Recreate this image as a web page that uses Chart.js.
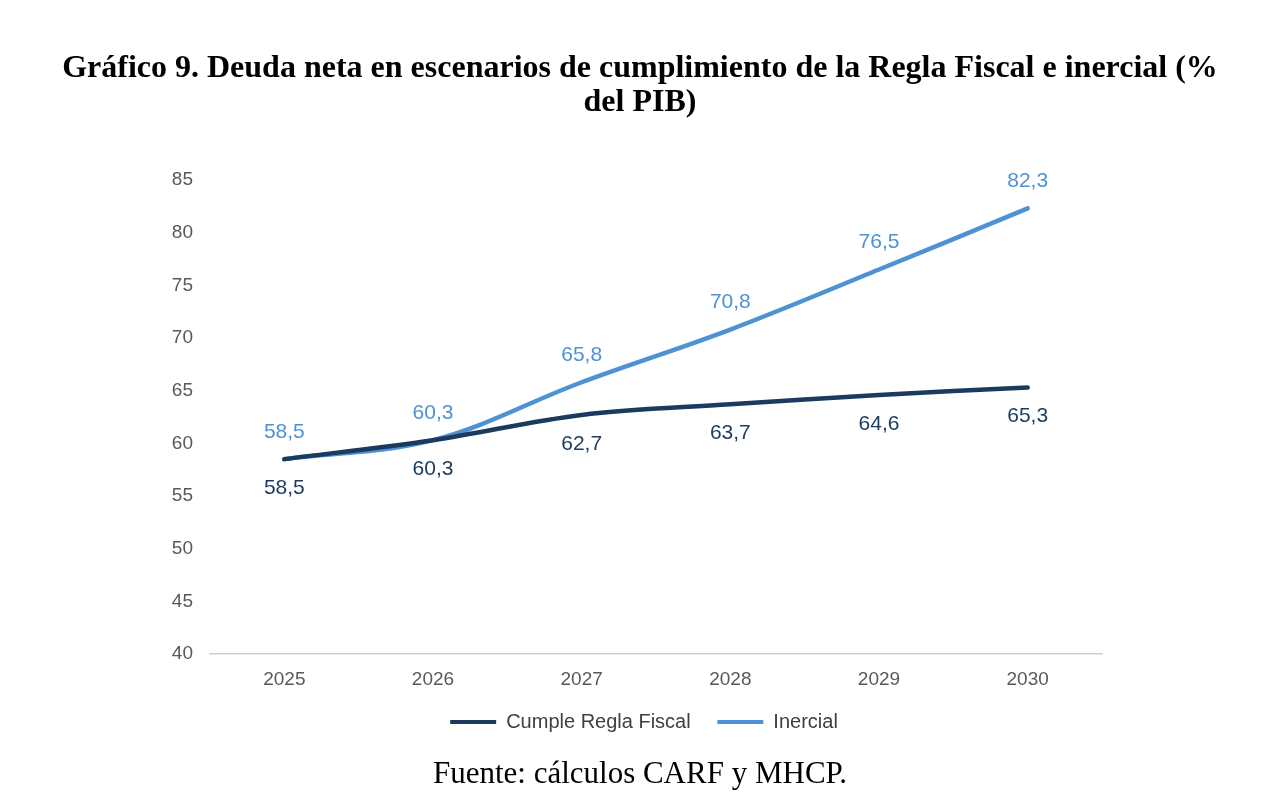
<!DOCTYPE html>
<html>
<head>
<meta charset="utf-8">
<script src="https://cdn.jsdelivr.net/npm/chart.js@4.4.1/dist/chart.umd.min.js"></script>
<style>
  html, body { margin: 0; padding: 0; background: #fff; }
  body { width: 1280px; height: 808px; position: relative; overflow: hidden; }
  #title {
    position: absolute; left: 0; top: 49px; width: 1280px; text-align: center;
    font-family: 'Liberation Serif', 'Times New Roman', serif; font-weight: bold;
    font-size: 32px; line-height: 34px; color: #000;
  }
  #source {
    position: absolute; left: 0; top: 754px; width: 1280px; text-align: center;
    font-family: 'Liberation Serif', 'Times New Roman', serif;
    font-size: 31px; line-height: 38px; color: #000;
  }
  #wrap { position: absolute; left: 0; top: 0; width: 1280px; height: 808px; }
</style>
</head>
<body>
<div id="wrap"><canvas id="chart" width="1280" height="808"></canvas></div>
<div id="title">Gráfico 9. Deuda neta en escenarios de cumplimiento de la Regla Fiscal e inercial (%<br>del PIB)</div>
<div id="source">Fuente: cálculos CARF y MHCP.</div>
<script>
const years = ['2025', '2026', '2027', '2028', '2029', '2030'];
const cumpleRegla = [58.5, 60.3, 62.7, 63.7, 64.6, 65.3];
const inercial = [58.5, 60.3, 65.8, 70.8, 76.5, 82.3];
const seriesNames = ['Cumple Regla Fiscal', 'Inercial'];
const seriesColors = ['#1a3a5e', '#4f92d4'];

// etiquetas de datos: clara arriba, oscura abajo
const dataLabels = {
    id: 'dataLabels',
    afterDatasetsDraw(chart) {
        const ctx = chart.ctx;
        ctx.save();
        ctx.font = '21px "Liberation Sans", Arial, sans-serif';
        ctx.textAlign = 'center';
        ctx.textBaseline = 'middle';
        chart.data.datasets.forEach((ds, i) => {
            const meta = chart.getDatasetMeta(i);
            const above = i === 1;
            ctx.fillStyle = ds.borderColor;
            meta.data.forEach((pt, j) => {
                const txt = ds.data[j].toFixed(1).replace('.', ',');
                ctx.fillText(txt, pt.x, pt.y + (above ? -27 : 29));
            });
        });
        ctx.restore();
    }
};

// centrar la leyenda bajo el area del grafico, no bajo todo el lienzo
const legendShift = {
    id: 'legendShift',
    afterLayout(chart) {
        const lg = chart.legend;
        const mid = (chart.chartArea.left + chart.chartArea.right) / 2;
        const dx = mid - (lg.left + lg.right) / 2 - 12;
        lg.left += dx;
        lg.right += dx;
    }
};

const ctx = document.getElementById('chart').getContext('2d');
new Chart(ctx, {
    type: 'line',
    data: {
        labels: years,
        datasets: [
            {
                label: seriesNames[0],
                data: cumpleRegla,
                borderColor: seriesColors[0],
                backgroundColor: seriesColors[0],
                borderWidth: 4.5,
                pointRadius: 0,
                tension: 0.35,
                borderCapStyle: 'round'
            },
            {
                label: seriesNames[1],
                data: inercial,
                borderColor: seriesColors[1],
                backgroundColor: seriesColors[1],
                borderWidth: 4.5,
                pointRadius: 0,
                tension: 0.35,
                borderCapStyle: 'round'
            }
        ]
    },
    options: {
        responsive: false,
        animation: false,
        layout: { padding: { top: 180, left: 150, right: 178, bottom: 66 } },
        plugins: {
            tooltip: { enabled: false },
            title: { display: false },
            legend: {
                display: true,
                position: 'bottom',
                labels: {
                    boxWidth: 46,
                    boxHeight: 4,
                    padding: 10,
                    color: '#404040',
                    font: { family: '"Liberation Sans", Arial, sans-serif', size: 20 },
                    generateLabels(chart) {
                        const n = chart.data.datasets.length;
                        return chart.data.datasets.map((ds, i) => ({
                            // espacio extra entre elementos de la leyenda
                            text: i < n - 1 ? ds.label + '   ' : ds.label,
                            fillStyle: ds.borderColor,
                            strokeStyle: ds.borderColor,
                            lineWidth: 0,
                            fontColor: '#404040',
                            datasetIndex: i
                        }));
                    }
                }
            }
        },
        scales: {
            x: {
                offset: true,
                grid: { display: false, drawTicks: false },
                border: { display: true, color: '#d0d0d0', width: 1.5 },
                ticks: {
                    padding: 14,
                    color: '#595959',
                    font: { family: '"Liberation Sans", Arial, sans-serif', size: 19 }
                },
                afterFit(scale) { scale.height = 48; }
            },
            y: {
                min: 40,
                max: 85,
                grid: { display: false, drawTicks: false },
                border: { display: false },
                ticks: {
                    stepSize: 5,
                    padding: 17,
                    color: '#595959',
                    font: { family: '"Liberation Sans", Arial, sans-serif', size: 19 }
                },
                afterFit(scale) { scale.width = 60; }
            }
        }
    },
    plugins: [dataLabels, legendShift]
});
</script>
</body>
</html>
